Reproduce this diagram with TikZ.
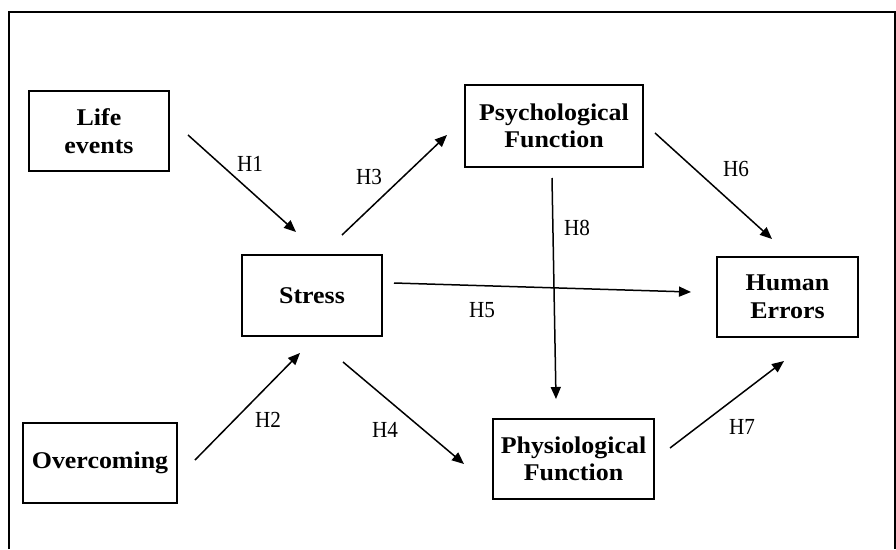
\documentclass[tikz,border=0pt]{standalone}
\usepackage{fontspec}
\setmainfont{Liberation Serif}
\newfontfamily\boxfont{Liberation Serif}[FakeStretch=1.08]
\newfontfamily\labfont{Liberation Serif}[FakeStretch=0.92]
\usetikzlibrary{arrows.meta}
\tikzset{
  box/.style={draw, line width=1.6pt, align=center, inner sep=0pt,
    font=\boxfont\fontsize{24}{27.5}\selectfont\bfseries},
  conn/.style={line width=1.5pt, -{Triangle[length=12pt,width=10pt]}},
  hlab/.style={font=\labfont\fontsize{23}{25}\selectfont, inner sep=0pt}
}
\begin{document}
\begin{tikzpicture}[x=1pt,y=-1pt]
\useasboundingbox (0,0) rectangle (896,549);
\draw[line width=1.6pt] (9,549) -- (9,12) -- (895,12) -- (895,549);
% boxes
\node[box, minimum width=140pt, minimum height=80pt] (life) at (99,131) {Life\\events};
\node[box, minimum width=154pt, minimum height=80pt] (over) at (100,463) {Overcoming};
\node[box, minimum width=140pt, minimum height=81pt] (stress) at (312,295.5) {Stress};
\node[box, minimum width=178pt, minimum height=82pt] (psych) at (554,126) {Psychological\\Function};
\node[box, minimum width=161pt, minimum height=80pt] (physio) at (573.5,459) {Physiological\\Function};
\node[box, minimum width=141pt, minimum height=80pt] (human) at (787.5,297) {Human\\Errors};
% connector ends
\coordinate (h1s) at (188,135); \coordinate (h1e) at (296,232);
\coordinate (h2s) at (195,460); \coordinate (h2e) at (300,353);
\coordinate (h3s) at (342,235); \coordinate (h3e) at (447,135);
\coordinate (h4s) at (343,362); \coordinate (h4e) at (464,464);
\coordinate (h5s) at (394,283); \coordinate (h5e) at (691,292);
\coordinate (h6s) at (655,133); \coordinate (h6e) at (772,239);
\coordinate (h7s) at (670,448); \coordinate (h7e) at (784,361);
\coordinate (h8s) at (552,178); \coordinate (h8e) at (556,399);
\draw[conn] (h1s) -- (h1e);
\draw[conn] (h2s) -- (h2e);
\draw[conn] (h3s) -- (h3e);
\draw[conn] (h4s) -- (h4e);
\draw[conn] (h5s) -- (h5e);
\draw[conn] (h6s) -- (h6e);
\draw[conn] (h7s) -- (h7e);
\draw[conn] (h8s) -- (h8e);
% labels
\node[hlab] (l1) at (250,164) {H1};
\node[hlab] (l2) at (268,420) {H2};
\node[hlab] (l3) at (369,177) {H3};
\node[hlab] (l4) at (385,430) {H4};
\node[hlab] (l5) at (482,310) {H5};
\node[hlab] (l6) at (736,169) {H6};
\node[hlab] (l7) at (742,427) {H7};
\node[hlab] (l8) at (577,228) {H8};
\end{tikzpicture}
\end{document}
